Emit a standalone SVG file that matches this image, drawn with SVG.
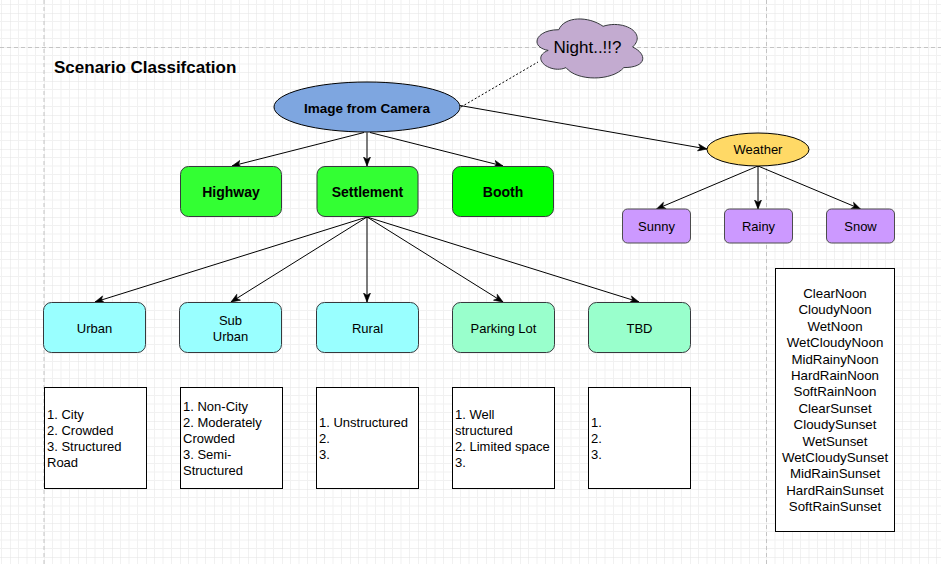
<svg xmlns="http://www.w3.org/2000/svg" width="941" height="564" viewBox="0 0 941 564">
<style>
text{font-family:"Liberation Sans",Arial,Helvetica,sans-serif;fill:#000}
.b{font-weight:bold}
.t13{font-size:13px}
.t14{font-size:14px}
.c{text-anchor:middle}
.edge{stroke:#000;stroke-width:1;fill:none}
.green{fill:#33FF33;stroke:#36393d;stroke-width:1}
.purple{fill:#CC99FF;stroke:#4d4d4d;stroke-width:1}
.cyan{fill:#99FFFF;stroke:#36393d;stroke-width:1}
.mint{fill:#99FFCC;stroke:#36393d;stroke-width:1}
.note{fill:#fff;stroke:#000;stroke-width:1}
.pb{stroke:#c4c4c4;stroke-width:1;stroke-dasharray:4 3}
</style>
<defs>
<pattern id="grid" patternUnits="userSpaceOnUse" x="44" y="47" width="34" height="34">
<path d="M8.5 0V34M17 0V34M25.5 0V34M0 8.5H34M0 17H34M0 25.5H34" stroke="#f1f1f1" stroke-width="1" fill="none"/>
<path d="M0 0V34M0 0H34" stroke="#e3e3e3" stroke-width="1" fill="none"/>
</pattern>
<marker id="arr" markerUnits="userSpaceOnUse" markerWidth="11" markerHeight="9" refX="9.5" refY="4.5" orient="auto">
<path d="M0.5,1 L9.5,4.5 L0.5,8 L2.8,4.5 Z" fill="#000" stroke="#000" stroke-width="0.6"/>
</marker>
</defs>
<rect x="0" y="0" width="941" height="564" fill="#fff"/>
<rect x="0" y="0" width="941" height="564" fill="url(#grid)"/>
<line class="pb" x1="44" y1="0" x2="44" y2="564"/>
<line class="pb" x1="766.5" y1="0" x2="766.5" y2="564"/>
<line class="pb" x1="0" y1="47.5" x2="941" y2="47.5"/>

<text id="title" class="b" x="54" y="73" font-size="17">Scenario Classifcation</text>

<g id="connectors">
<line x1="461" y1="107" x2="538" y2="62" stroke="#000" stroke-width="1" stroke-dasharray="2 2"/>
<line class="edge" x1="460" y1="105.5" x2="707" y2="149" marker-end="url(#arr)"/>
<line class="edge" x1="364" y1="132.5" x2="232" y2="166" marker-end="url(#arr)"/>
<line class="edge" x1="367" y1="132.5" x2="367" y2="166" marker-end="url(#arr)"/>
<line class="edge" x1="370" y1="132.5" x2="503" y2="166" marker-end="url(#arr)"/>
<line class="edge" x1="758" y1="166" x2="656.5" y2="209" marker-end="url(#arr)"/>
<line class="edge" x1="758" y1="166" x2="758" y2="209" marker-end="url(#arr)"/>
<line class="edge" x1="758" y1="166" x2="860.5" y2="209" marker-end="url(#arr)"/>
<line class="edge" x1="367" y1="217" x2="95" y2="302" marker-end="url(#arr)"/>
<line class="edge" x1="367" y1="217" x2="231" y2="302" marker-end="url(#arr)"/>
<line class="edge" x1="367" y1="217" x2="367" y2="302" marker-end="url(#arr)"/>
<line class="edge" x1="367" y1="217" x2="503" y2="302" marker-end="url(#arr)"/>
<line class="edge" x1="367" y1="217" x2="639" y2="302" marker-end="url(#arr)"/>
</g>

<g id="night">
<path d="M558.8,29.7 C535.2,29.7 529.3,47 548.2,50.4 C529.3,58 550.5,74.5 566,67.6 C576.6,81.4 612,81.4 623.8,67.6 C647.4,67.6 647.4,53.9 632.6,47 C647.4,33.2 623.8,19.4 603.1,26.3 C588.4,16 564.7,16 558.8,29.7 Z" fill="#C3ABD0" stroke="#36393d" stroke-width="1"/>
<text class="c" x="587.5" y="53" font-size="17">Night..!!?</text>
</g>

<g id="camera">
<ellipse cx="367" cy="107" rx="93" ry="25" fill="#7EA6E0" stroke="#000" stroke-width="1"/>
<text class="b c" x="367" y="112.5" font-size="13.5">Image from Camera</text>
</g>

<g id="weather">
<ellipse cx="758" cy="149.5" rx="51" ry="16.5" fill="#FFD966" stroke="#000" stroke-width="1"/>
<text class="t13 c" x="758" y="154">Weather</text>
</g>

<g id="highway">
<rect class="green" x="180.5" y="166.5" width="101" height="50" rx="8"/>
<text class="b t14 c" x="231" y="197">Highway</text>
</g>
<g id="settlement">
<rect class="green" x="317" y="166.5" width="101" height="50" rx="8"/>
<text class="b t14 c" x="367.5" y="197">Settlement</text>
</g>
<g id="booth">
<rect x="452.5" y="166.5" width="101" height="50" rx="8" fill="#00FF00" stroke="#36393d" stroke-width="1"/>
<text class="b t14 c" x="503" y="197">Booth</text>
</g>

<g id="sunny">
<rect class="purple" x="622.5" y="209" width="68" height="34" rx="5"/>
<text class="t13 c" x="656.5" y="231">Sunny</text>
</g>
<g id="rainy">
<rect class="purple" x="724.5" y="209" width="68" height="34" rx="5"/>
<text class="t13 c" x="758.5" y="231">Rainy</text>
</g>
<g id="snow">
<rect class="purple" x="826.5" y="209" width="68" height="34" rx="5"/>
<text class="t13 c" x="860.5" y="231">Snow</text>
</g>

<g id="urban">
<rect class="cyan" x="43.5" y="302.5" width="102" height="50" rx="8"/>
<text class="t13 c" x="94.5" y="332.5">Urban</text>
</g>
<g id="suburban">
<rect class="cyan" x="179.5" y="302.5" width="102" height="50" rx="8"/>
<text class="t13 c" x="230.5" y="325">Sub</text>
<text class="t13 c" x="230.5" y="341">Urban</text>
</g>
<g id="rural">
<rect class="cyan" x="316.5" y="302.5" width="102" height="50" rx="8"/>
<text class="t13 c" x="367.5" y="332.5">Rural</text>
</g>
<g id="parking">
<rect class="mint" x="452.5" y="302.5" width="102" height="50" rx="8"/>
<text class="t13 c" x="503.5" y="332.5">Parking Lot</text>
</g>
<g id="tbd">
<rect class="mint" x="588.5" y="302.5" width="102" height="50" rx="8"/>
<text class="t13 c" x="639.5" y="332.5">TBD</text>
</g>

<g id="urban-notes">
<rect class="note" x="44.5" y="387.5" width="102" height="101"/>
<text class="t13" x="47" y="418.5">1. City</text>
<text class="t13" x="47" y="434.5">2. Crowded</text>
<text class="t13" x="47" y="450.5">3. Structured</text>
<text class="t13" x="47" y="466.5">Road</text>
</g>
<g id="suburban-notes">
<rect class="note" x="180.5" y="387.5" width="102" height="101"/>
<text class="t13" x="183" y="410.5">1. Non-City</text>
<text class="t13" x="183" y="426.5">2. Moderately</text>
<text class="t13" x="183" y="442.5">Crowded</text>
<text class="t13" x="183" y="458.5">3. Semi-</text>
<text class="t13" x="183" y="474.5">Structured</text>
</g>
<g id="rural-notes">
<rect class="note" x="316.5" y="387.5" width="102" height="101"/>
<text class="t13" x="319" y="426.5">1. Unstructured</text>
<text class="t13" x="319" y="442.5">2.</text>
<text class="t13" x="319" y="458.5">3.</text>
</g>
<g id="parking-notes">
<rect class="note" x="452.5" y="387.5" width="102" height="101"/>
<text class="t13" x="455" y="418.5">1. Well</text>
<text class="t13" x="455" y="434.5">structured</text>
<text class="t13" x="455" y="450.5">2. Limited space</text>
<text class="t13" x="455" y="466.5">3.</text>
</g>
<g id="tbd-notes">
<rect class="note" x="588.5" y="387.5" width="102" height="101"/>
<text class="t13" x="591" y="426.5">1.</text>
<text class="t13" x="591" y="442.5">2.</text>
<text class="t13" x="591" y="458.5">3.</text>
</g>

<g id="weather-list">
<rect class="note" x="775.5" y="268.5" width="119" height="263"/>
<g font-size="13.3" text-anchor="middle">
<text x="835" y="298">ClearNoon</text>
<text x="835" y="314.4">CloudyNoon</text>
<text x="835" y="330.8">WetNoon</text>
<text x="835" y="347.2">WetCloudyNoon</text>
<text x="835" y="363.6">MidRainyNoon</text>
<text x="835" y="380">HardRainNoon</text>
<text x="835" y="396.4">SoftRainNoon</text>
<text x="835" y="412.8">ClearSunset</text>
<text x="835" y="429.2">CloudySunset</text>
<text x="835" y="445.6">WetSunset</text>
<text x="835" y="462">WetCloudySunset</text>
<text x="835" y="478.4">MidRainSunset</text>
<text x="835" y="494.8">HardRainSunset</text>
<text x="835" y="511.2">SoftRainSunset</text>
</g>
</g>
</svg>
